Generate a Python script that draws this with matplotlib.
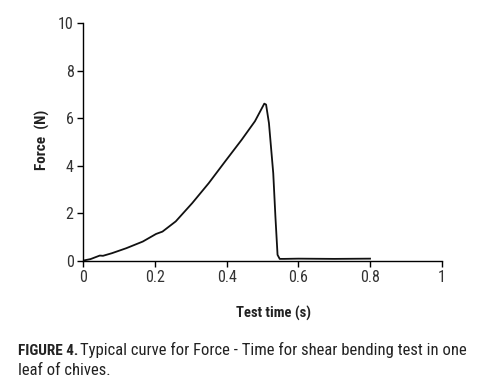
import matplotlib
matplotlib.use("Agg")
import matplotlib.pyplot as plt

plt.rcParams['font.family'] = ['Roboto Condensed', 'DejaVu Sans']

time_s = [0.0, 0.02, 0.046, 0.055, 0.08, 0.12, 0.166, 0.203, 0.221, 0.258, 0.304,
          0.350, 0.396, 0.442, 0.479, 0.505, 0.51, 0.518, 0.530, 0.536, 0.542,
          0.548, 0.56, 0.6, 0.7, 0.8]
force_n = [0.0, 0.06, 0.21, 0.20, 0.31, 0.52, 0.80, 1.12, 1.22, 1.65, 2.42,
           3.26, 4.18, 5.09, 5.87, 6.61, 6.57, 5.79, 3.68, 1.86, 0.24,
           0.07, 0.07, 0.08, 0.07, 0.08]
x_ticks = [0, 0.2, 0.4, 0.6, 0.8, 1]
x_labels = ["0", "0.2", "0.4", "0.6", "0.8", "1"]
y_ticks = [0, 2, 4, 6, 8, 10]

fig = plt.figure(figsize=(4.87, 3.86), dpi=100)
ax = fig.add_axes([0.171, 0.325, 0.736, 0.615])
ax.plot(time_s, force_n, color="#111111", lw=1.3)
ax.set_xlim(0, 1)
ax.set_ylim(0, 10)
ax.set_xticks(x_ticks)
ax.set_xticklabels(x_labels)
ax.set_yticks(y_ticks)
for s in ("top", "right"):
    ax.spines[s].set_visible(False)
for s in ("left", "bottom"):
    ax.spines[s].set_linewidth(1.0)
ax.tick_params(axis="both", direction="out", length=4, width=1.0,
               labelsize=11.5, labelcolor="#333333", pad=3)

fig.text(0.087, 0.637, "Force  (N)", rotation=90, ha="center", va="center",
         fontsize=11, fontweight="bold", color="#222222")
fig.text(0.561, 0.187, "Test time (s)", ha="center", va="center",
         fontsize=10.5, fontweight="bold", color="#222222")

fig.canvas.draw()
r = fig.canvas.get_renderer()
t1 = fig.text(0.037, 0.080, "FIGURE 4.", fontsize=11, fontweight="bold",
              color="#222222", va="baseline")
bb = t1.get_window_extent(renderer=r)
x2 = bb.x1 / fig.bbox.width + 0.004
fig.text(x2, 0.080, "Typical curve for Force - Time for shear bending test in one",
         fontsize=12, color="#222222", va="baseline")
fig.text(0.037, 0.028, "leaf of chives.", fontsize=12, color="#222222", va="baseline")

fig.savefig("out.png", dpi=100)
